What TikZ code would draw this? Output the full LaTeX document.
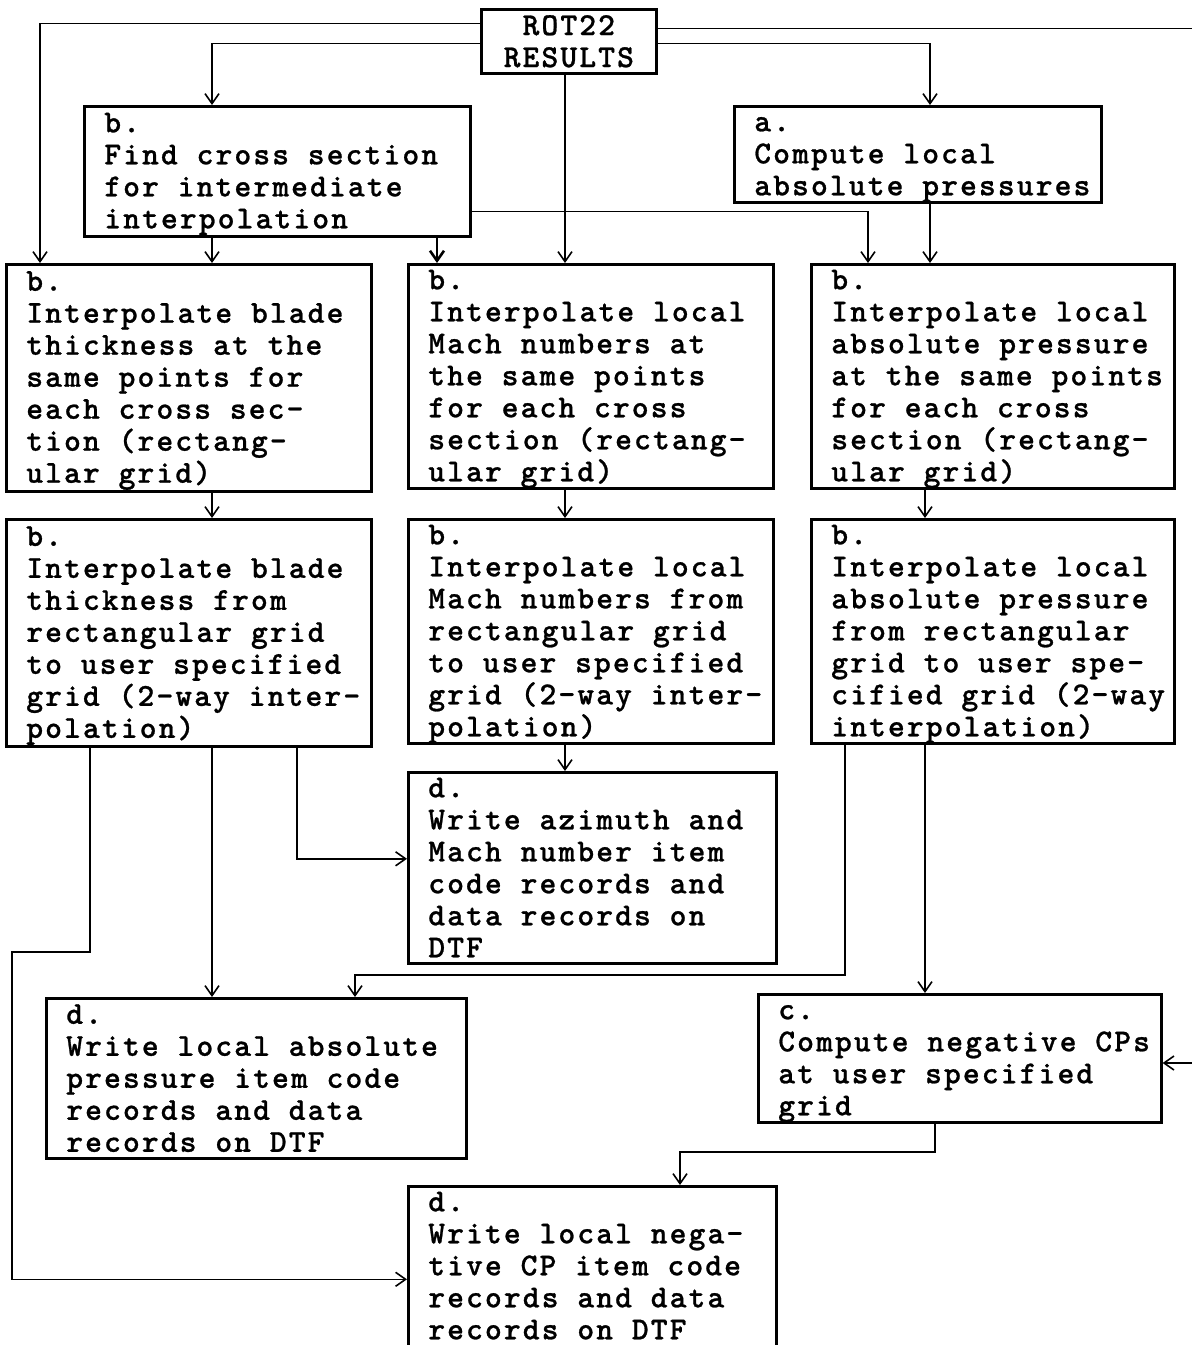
\documentclass[tikz,border=0pt]{standalone}
\usepackage{fontspec}
\newfontfamily\typer{lmmonolt10-bold.otf}[LetterSpace=6.6, FakeBold=0.8]
\usetikzlibrary{arrows.meta}

\begin{document}
\begin{tikzpicture}[x=0.5pt, y=-0.5pt, >={Straight Barb[length=5pt,width=7pt]}, line width=0.8pt,
  stepbox/.style={draw, line width=1.3pt, anchor=north west, inner xsep=0pt, inner ysep=0pt, align=left,
    font=\typer\fontsize{16}{16}\selectfont,
    execute at begin node={\lineskiplimit=-20pt\leftskip=10pt\rightskip=-8pt plus 1fil\spaceskip=9.4pt\xspaceskip=9.4pt\rule{0pt}{12.5pt}}},
  headbox/.style={draw, line width=1.3pt, anchor=north west, inner sep=0pt, align=center,
    font=\typer\fontsize{16}{16}\selectfont}]

\useasboundingbox (0,0) rectangle (1192,1345);

\node[headbox, minimum width=87.5pt, minimum height=32pt] (rot) at (480,8) {ROT22\\RESULTS};

\node[stepbox, text width=193pt, minimum height=65pt] (find) at (83,105)
  {b.\\Find cross section\\for intermediate\\interpolation};
\node[stepbox, text width=183.5pt, minimum height=46.5pt] (abs) at (733,105)
  {a.\\Compute local\\absolute pressures};

\node[stepbox, text width=182.5pt, minimum height=113.5pt] (thick) at (5,263)
  {b.\\Interpolate blade\\thickness at the\\same points for\\each cross sec-\\tion (rectang-\\ular grid)};
\node[stepbox, text width=182.5pt, minimum height=112pt] (mach) at (407,263)
  {b.\\Interpolate local\\Mach numbers at\\the same points\\for each cross\\section (rectang-\\ular grid)};
\node[stepbox, text width=181.5pt, minimum height=112pt] (pres) at (810,263)
  {b.\\Interpolate local\\absolute pressure\\at the same points\\for each cross\\section (rectang-\\ular grid)};

\node[stepbox, text width=182.5pt, minimum height=113.5pt] (thickgrid) at (5,518)
  {b.\\Interpolate blade\\thickness from\\rectangular grid\\to user specified\\grid (2-way inter-\\polation)};
\node[stepbox, text width=182.5pt, minimum height=112pt] (machgrid) at (407,518)
  {b.\\Interpolate local\\Mach numbers from\\rectangular grid\\to user specified\\grid (2-way inter-\\polation)};
\node[stepbox, text width=181.5pt, minimum height=112pt] (presgrid) at (810,518)
  {b.\\Interpolate local\\absolute pressure\\from rectangular\\grid to user spe-\\cified grid (2-way\\interpolation)};

\node[stepbox, text width=184pt, minimum height=95pt] (azim) at (407,771)
  {d.\\Write azimuth and\\Mach number item\\code records and\\data records on\\DTF\rule[-3pt]{0pt}{0pt}};
\node[stepbox, text width=210pt, minimum height=80pt] (abswrite) at (45,997)
  {d.\\Write local absolute\\pressure item code\\records and data\\records on DTF\rule[-3pt]{0pt}{0pt}};
\node[stepbox, text width=201.5pt, minimum height=63.5pt] (cp) at (757,993)
  {c.\\Compute negative CPs\\at user specified\\grid};
\node[stepbox, text width=184pt, minimum height=82.5pt] (final) at (407,1185)
  {d.\\Write local nega-\\tive CP item code\\records and data\\records on DTF\rule[-6pt]{0pt}{0pt}};

\coordinate (p1) at (40,0);
\coordinate (p2) at (212,0);
\coordinate (p3) at (437,0);
\coordinate (p4) at (565,0);
\coordinate (p5) at (868,0);
\coordinate (p6) at (930,0);
\coordinate (p7) at (925,0);
\coordinate (p8) at (90,0);
\coordinate (p9) at (297,0);
\coordinate (p10) at (845,0);
\coordinate (p12) at (935,0);
\coordinate (k1) at (12,952);
\coordinate (k2) at (355,975);
\coordinate (k3) at (680,1152);
\coordinate (rim) at (1192,0);
\coordinate (rimcp) at (1192,1063);
\coordinate (r1) at ([yshift=6.5pt]rot.east);

\draw[->] ([yshift=9pt]rot.west) -| (p1 |- thick.north);
\draw[->] ([yshift=-1pt]rot.west) -| (p2 |- find.north);
\draw[->] ([yshift=-1pt]rot.east) -| (p6 |- abs.north);
\draw (r1) -- (r1 -| rim);
\draw[->] (rot.south -| p4) -- (mach.north -| p4);

\draw[->] (find.south -| p2) -- (thick.north -| p2);
\draw[->, line width=1.3pt] (find.south -| p3) -- (mach.north -| p3);
\draw[->] ([yshift=-20pt]find.east) -| (p5 |- pres.north);
\draw[->] (abs.south -| p6) -- (pres.north -| p6);

\draw[->] (thick.south -| p2) -- (thickgrid.north -| p2);
\draw[->] (mach.south -| p4) -- (machgrid.north -| p4);
\draw[->] (pres.south -| p7) -- (presgrid.north -| p7);

\draw[->] (thickgrid.south -| p8) |- (k1) |- ([yshift=-5.25pt]final.west);
\draw[->] (thickgrid.south -| p2) -- (abswrite.north -| p2);
\draw[->] (thickgrid.south -| p9) |- ([yshift=4.5pt]azim.west);
\draw[->] (machgrid.south -| p4) -- (azim.north -| p4);
\draw[->] (presgrid.south -| p10) |- (k2) -- (abswrite.north -| k2);
\draw[->] (presgrid.south -| p7) -- (cp.north -| p7);

\draw[->] (cp.south -| p12) |- (k3) -- (final.north -| k3);
\draw[->] (rimcp) -- (rimcp -| cp.east);

\end{tikzpicture}
\end{document}
